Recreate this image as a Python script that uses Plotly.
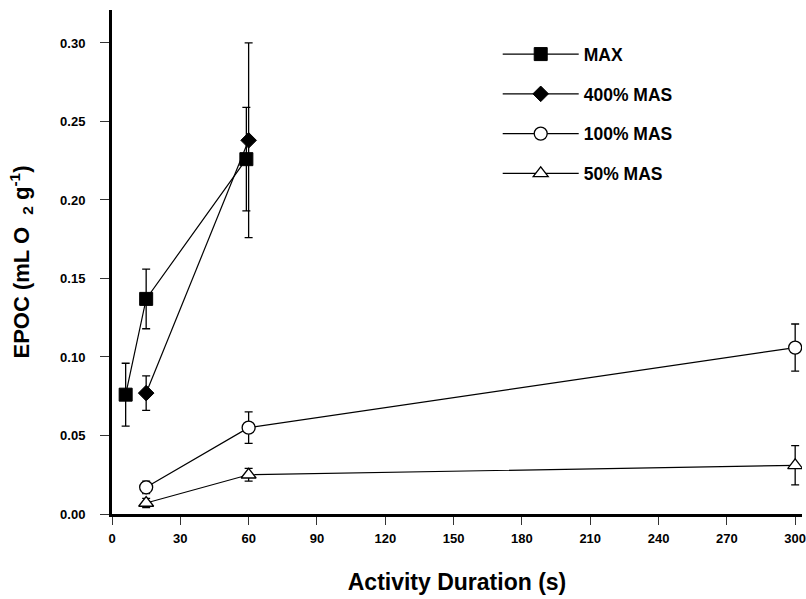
import plotly.graph_objects as go

# ---- data ----
series_names = ["MAX", "400% MAS", "100% MAS", "50% MAS"]

max_x = [6, 15, 59]
max_y = [0.076, 0.137, 0.226]
max_err = [0.020, 0.019, 0.033]

mas400_x = [15, 60]
mas400_y = [0.077, 0.238]
mas400_err = [0.011, 0.062]

mas100_x = [15, 60, 300]
mas100_y = [0.017, 0.055, 0.106]
mas100_err = [0.004, 0.010, 0.015]

mas50_x = [15, 60, 300]
mas50_y = [0.007, 0.025, 0.031]
mas50_err = [0.003, 0.004, 0.0125]

x_ticks = [0, 30, 60, 90, 120, 150, 180, 210, 240, 270, 300]
y_ticks = [0.00, 0.05, 0.10, 0.15, 0.20, 0.25, 0.30]

FONT = "Liberation Sans, Arial, sans-serif"

styles = [
    (max_x, max_y, max_err, dict(symbol="square", size=13, color="black", line=dict(color="black", width=1))),
    (mas400_x, mas400_y, mas400_err, dict(symbol="diamond", size=12, color="black", line=dict(color="black", width=1))),
    (mas100_x, mas100_y, mas100_err, dict(symbol="circle", size=13, color="white", line=dict(color="black", width=1.3))),
    (mas50_x, mas50_y, mas50_err, dict(symbol="triangle-up", size=13, color="white", line=dict(color="black", width=1.3))),
]

fig = go.Figure()
for name, (xs, ys, es, mk) in zip(series_names, styles):
    fig.add_trace(go.Scatter(
        x=xs, y=ys, name=name, mode="lines+markers",
        legendgroup=name,
        line=dict(color="black", width=1.2),
        marker=mk,
        error_y=dict(type="data", array=es, visible=True, color="black", thickness=1.3, width=4),
    ))

fig.update_layout(
    width=806, height=599,
    margin=dict(l=112, r=0, t=10, b=85),
    paper_bgcolor="white", plot_bgcolor="white",
    font=dict(family=FONT, color="black"),
    showlegend=True,
    legend=dict(
        x=0.559, y=0.948, xanchor="left", yanchor="top",
        font=dict(size=17.5, family=FONT, weight="bold"),
        itemwidth=76,
        tracegroupgap=14, bgcolor="rgba(0,0,0,0)",
    ),
    xaxis=dict(
        range=[0, 303], tickvals=x_ticks, ticktext=[str(v) for v in x_ticks],
        showgrid=False, zeroline=False, showline=True, linecolor="black", linewidth=3,
        ticks="outside", ticklen=8, tickwidth=1.2, tickcolor="#333",
        tickfont=dict(size=13, family=FONT, weight="bold"),
        ticklabelstandoff=2, ticklabeloverflow="allow",
        title=dict(text="Activity Duration (s)", standoff=30,
                   font=dict(size=23, family="Liberation Sans Narrow, " + FONT, weight="bold")),
    ),
    yaxis=dict(
        range=[0, 0.321], tickvals=y_ticks, ticktext=["%.2f" % v for v in y_ticks],
        showgrid=False, zeroline=False, showline=True, linecolor="black", linewidth=3,
        ticks="outside", ticklen=9, tickwidth=1.2, tickcolor="#333",
        tickfont=dict(size=13, family=FONT, weight="bold"),
        ticklabelstandoff=12,
        title=dict(text="EPOC (mL O  <sub>2</sub> g<sup>-1</sup>)", standoff=25,
                   font=dict(size=22, family=FONT, weight="bold")),
    ),
)

fig.write_html("out.html")
